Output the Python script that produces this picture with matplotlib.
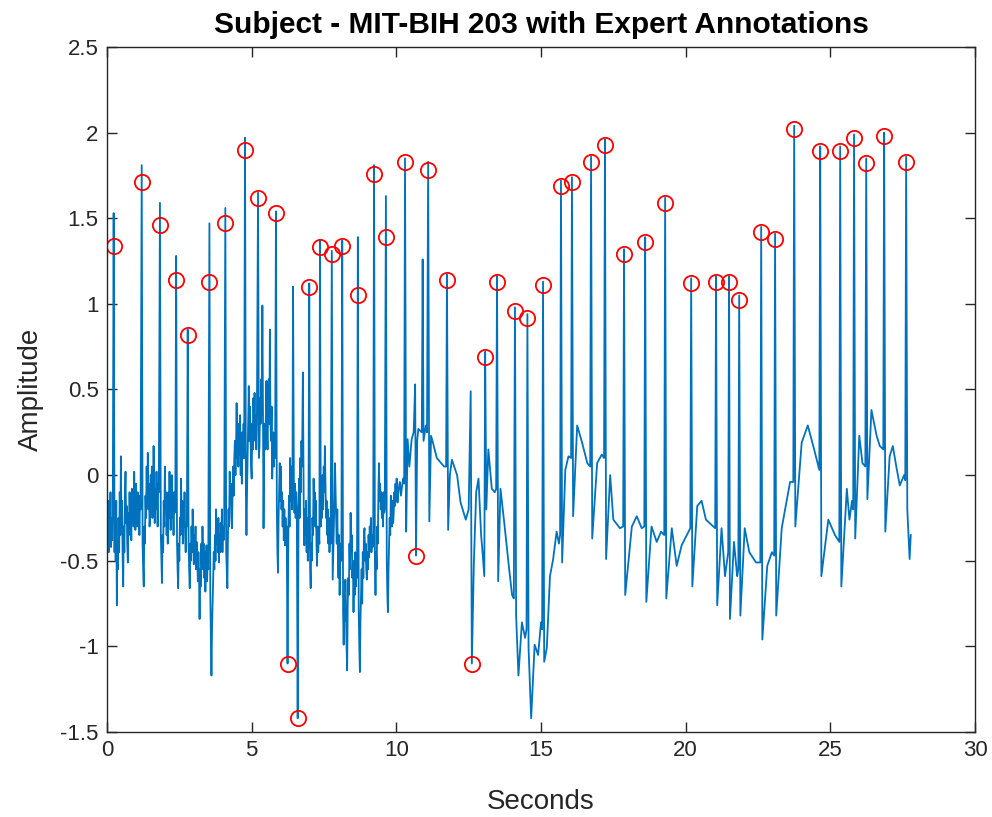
import matplotlib
matplotlib.use("Agg")
import matplotlib.pyplot as plt

plt.rcParams["font.family"] = ["Liberation Sans", "DejaVu Sans"]
plt.rcParams["axes.unicode_minus"] = False

# ECG trace (seconds, amplitude)
ecg_t = [
    0.00, 0.02, 0.04, 0.06, 0.08, 0.10, 0.12, 0.14, 0.16, 0.18, 0.20,
    0.23, 0.26,
    0.28, 0.30, 0.32, 0.34, 0.36, 0.38, 0.40, 0.42, 0.44, 0.46, 0.48, 0.50, 0.52, 0.54, 0.56,
    0.58, 0.60, 0.62, 0.64, 0.66, 0.68, 0.70, 0.72, 0.74, 0.76, 0.78, 0.80, 0.82, 0.84, 0.86,
    0.88, 0.90, 0.92, 0.94, 0.96, 0.98, 1.00, 1.02, 1.04, 1.06, 1.08, 1.10, 1.12, 1.14, 1.16,
    1.20, 1.23,
    1.25, 1.27, 1.29, 1.31, 1.33, 1.35, 1.37, 1.39, 1.41, 1.43, 1.45, 1.47, 1.49, 1.51,
    1.53, 1.55, 1.57, 1.59, 1.61, 1.63, 1.65, 1.67, 1.69, 1.71, 1.73, 1.75, 1.77, 1.79,
    1.83, 1.86,
    1.88, 1.90, 1.92, 1.94, 1.96, 1.98, 2.00, 2.02, 2.04, 2.06, 2.08, 2.10, 2.12,
    2.14, 2.16, 2.18, 2.20, 2.22, 2.24, 2.26, 2.28, 2.30, 2.32, 2.34, 2.36,
    2.39, 2.42,
    2.44, 2.46, 2.48, 2.50, 2.52, 2.54, 2.56, 2.58, 2.60, 2.62, 2.64, 2.66, 2.68, 2.70,
    2.72, 2.74, 2.76,
    2.79, 2.82,
    2.84, 2.86, 2.88, 2.90, 2.92, 2.94, 2.96, 2.98, 3.00, 3.02, 3.04, 3.06, 3.08, 3.10,
    3.12, 3.14, 3.16, 3.18, 3.20, 3.22, 3.24, 3.26, 3.28, 3.30, 3.32, 3.34, 3.36, 3.38,
    3.40, 3.42, 3.44, 3.46, 3.48, 3.50,
    3.54, 3.57,
    3.59, 3.61, 3.63, 3.65, 3.67, 3.69, 3.71, 3.73, 3.75, 3.77, 3.79, 3.81,
    3.83, 3.85, 3.87, 3.89, 3.91, 3.93, 3.95, 3.97, 3.99, 4.01, 4.03, 4.05,
    4.09, 4.12,
    4.14, 4.16, 4.18, 4.20, 4.22, 4.24, 4.26, 4.28, 4.30, 4.32, 4.34, 4.36, 4.38, 4.40, 4.42, 4.44,
    4.46, 4.48, 4.50, 4.52, 4.54, 4.56, 4.58, 4.60, 4.62, 4.64, 4.66, 4.68, 4.70, 4.72, 4.74,
    4.77, 4.80,
    4.82, 4.84, 4.86, 4.88, 4.90, 4.92, 4.94, 4.96, 4.98, 5.00,
    5.02, 5.04, 5.06, 5.08, 5.10, 5.12, 5.14, 5.16, 5.18,
    5.22, 5.25,
    5.27, 5.29, 5.31, 5.33, 5.35, 5.37, 5.39, 5.41, 5.43, 5.45, 5.47, 5.49, 5.51, 5.53,
    5.55, 5.57, 5.59, 5.61, 5.63, 5.65, 5.67, 5.69, 5.71, 5.73, 5.75, 5.77, 5.79, 5.81,
    5.84, 5.87,
    5.89, 5.91, 5.93, 5.95, 5.97, 5.99, 6.01, 6.03, 6.05, 6.07, 6.09, 6.11, 6.13, 6.15, 6.17, 6.19, 6.21,
    6.24, 6.27,
    6.29, 6.31, 6.33, 6.35, 6.37, 6.39, 6.41,
    6.43, 6.46,
    6.48, 6.50, 6.52, 6.54, 6.56,
    6.59, 6.62,
    6.64, 6.66, 6.68, 6.70, 6.72, 6.74,
    6.77, 6.80,
    6.82, 6.84, 6.86, 6.88, 6.90, 6.92, 6.94, 6.96,
    6.99, 7.02,
    7.04, 7.06, 7.08, 7.10, 7.12, 7.14, 7.16, 7.18, 7.20, 7.22, 7.24, 7.26, 7.28, 7.30, 7.32, 7.34,
    7.36, 7.39,
    7.41, 7.43, 7.45, 7.47, 7.49, 7.51, 7.53, 7.55, 7.57, 7.59, 7.61, 7.63, 7.65, 7.67, 7.69, 7.71, 7.73,
    7.77, 7.80,
    7.82, 7.84, 7.86, 7.88, 7.90, 7.92, 7.94, 7.96, 7.98, 8.00, 8.02, 8.04, 8.06, 8.08, 8.10,
    8.13, 8.16,
    8.18, 8.20, 8.22, 8.24, 8.26, 8.28, 8.30, 8.32, 8.34, 8.36, 8.38, 8.40,
    8.42, 8.44, 8.46, 8.48, 8.50, 8.52, 8.54, 8.56, 8.58, 8.60, 8.62, 8.64,
    8.67, 8.70,
    8.72, 8.74, 8.76, 8.78, 8.80, 8.82, 8.84, 8.86, 8.88, 8.90, 8.92, 8.94, 8.96,
    8.98, 9.00, 9.02, 9.04, 9.06, 9.08, 9.10, 9.12, 9.14, 9.16, 9.18, 9.20,
    9.23, 9.26,
    9.28, 9.30, 9.32, 9.34, 9.36, 9.38, 9.40, 9.42, 9.44, 9.46, 9.48, 9.50, 9.52, 9.54, 9.56, 9.58, 9.60,
    9.64, 9.67,
    9.69, 9.71, 9.73, 9.75, 9.77, 9.79, 9.81, 9.83, 9.85, 9.87, 9.89, 9.91,
    9.93, 9.95, 9.97, 9.99, 10.01, 10.04, 10.08, 10.12, 10.16, 10.20, 10.24, 10.27,
    10.30, 10.34, 10.39, 10.45, 10.53, 10.60, 10.65, 10.68, 10.72, 10.76, 10.88, 10.91, 10.94, 11.02, 11.06,
    11.10, 11.14, 11.20, 11.28, 11.40, 11.55, 11.65, 11.72,
    11.75, 11.79, 11.85, 11.92, 12.00, 12.10, 12.22, 12.40, 12.50, 12.57,
    12.61, 12.68, 12.76, 12.84, 12.93, 12.98, 13.04,
    13.07, 13.11, 13.18, 13.30, 13.40, 13.45,
    13.48, 13.52, 13.60, 13.75, 13.90, 14.00, 14.06,
    14.10, 14.14, 14.22, 14.34, 14.45, 14.50,
    14.53, 14.57, 14.66, 14.78, 14.90, 15.00, 15.04,
    15.07, 15.11, 15.20, 15.31, 15.42, 15.54, 15.62, 15.66,
    15.69, 15.73, 15.84, 15.95, 16.04,
    16.07, 16.11, 16.25, 16.42, 16.60, 16.70,
    16.73, 16.77, 16.94, 17.10, 17.18,
    17.21, 17.25, 17.39, 17.50, 17.73, 17.84,
    17.87, 17.91, 18.14, 18.31, 18.48, 18.57,
    18.60, 18.64, 18.82, 19.00, 19.15, 19.26,
    19.29, 19.33, 19.52, 19.69, 19.86, 20.16,
    20.19, 20.23, 20.40, 20.55, 20.70, 21.02,
    21.05, 21.09, 21.24, 21.36, 21.47,
    21.50, 21.53, 21.67, 21.78, 21.82,
    21.85, 21.89, 22.04, 22.20, 22.43, 22.58,
    22.61, 22.65, 22.82, 22.98, 23.06,
    23.09, 23.13, 23.32, 23.50, 23.61, 23.72,
    23.75, 23.79, 24.01, 24.22, 24.41, 24.62,
    24.65, 24.69, 24.93, 25.16, 25.31,
    25.34, 25.38, 25.57, 25.66, 25.75, 25.79,
    25.82, 25.86, 26.00, 26.11, 26.21,
    26.24, 26.28, 26.42, 26.60, 26.71, 26.83,
    26.86, 26.90, 27.05, 27.16, 27.28, 27.40, 27.55, 27.59,
    27.62, 27.66, 27.74, 27.78,
]
ecg_v = [
    -0.05, -0.35, -0.15, -0.45, -0.20, -0.30, -0.10, -0.42, -0.25, -0.38, -0.22,
    1.53, -0.45,
    -0.20, -0.50, -0.15, -0.76, -0.40, -0.55, -0.25, -0.45, -0.10, -0.35, 0.11, -0.30, -0.15, -0.48, -0.65,
    -0.30, -0.45, -0.12, 0.02, -0.28, -0.18, -0.40, -0.51, -0.22, -0.35, -0.10, -0.30, -0.18, -0.38, -0.08,
    -0.25, -0.12, -0.30, 0.02, -0.20, -0.32, -0.05, -0.22, -0.30, -0.10, -0.25, -0.15, -0.35, -0.12, -0.20,
    1.81, -0.40,
    -0.55, -0.65, -0.30, -0.40, -0.12, -0.25, 0.05, -0.15, 0.13, -0.20, -0.05, -0.30, -0.24, 0.00,
    -0.15, 0.05, -0.25, -0.10, 0.17, -0.05, -0.28, -0.08, -0.20, 0.02, -0.15, -0.30, -0.05, -0.10,
    1.59, -0.35,
    -0.50, -0.63, -0.35, -0.45, -0.15, -0.30, 0.05, -0.20, -0.10, -0.35, -0.18, -0.40, -0.10,
    -0.25, 0.02, -0.20, -0.32, -0.08, 0.00, -0.25, -0.15, -0.35, -0.10, -0.22, -0.20,
    1.28, -0.40,
    -0.55, -0.66, -0.40, -0.50, -0.25, -0.35, -0.02, -0.30, -0.15, -0.40, -0.22, -0.30, -0.10, -0.35,
    -0.45, -0.28, -0.30,
    0.85, -0.40,
    -0.55, -0.66, -0.40, -0.50, -0.30, -0.45, -0.20, -0.38, -0.52, -0.35, -0.45, -0.30, -0.55, -0.39,
    -0.48, -0.62, -0.45, -0.58, -0.84, -0.55, -0.65, -0.40, -0.55, -0.30, -0.48, -0.40, -0.60, -0.45,
    -0.68, -0.50, -0.41, -0.62, -0.48, -0.55,
    1.47, -0.70,
    -0.95, -1.17, -0.90, -0.75, -0.60, -0.45, -0.55, -0.35, -0.50, -0.20, -0.40, -0.30,
    -0.45, -0.25, -0.51, -0.35, -0.45, -0.28, -0.40, -0.20, -0.45, -0.30, -0.38, -0.30,
    1.56, -0.45,
    -0.55, -0.66, -0.35, -0.20, -0.30, 0.02, -0.15, -0.05, -0.25, -0.31, -0.10, 0.05, -0.12, 0.10, 0.20, 0.00,
    0.15, 0.42, 0.10, 0.25, 0.05, 0.30, 0.12, 0.35, 0.00, 0.20, -0.05, 0.25, 0.10, 0.30, 0.10,
    1.97, -0.10,
    -0.35, -0.10, 0.10, 0.30, 0.52, 0.20, 0.40, 0.25, 0.05, -0.02,
    0.30, 0.15, 0.45, 0.25, 0.48, 0.20, 0.35, 0.15, 0.30,
    1.65, 0.10,
    0.17, 0.45, 0.30, 0.56, 0.35, 0.99, 0.40, -0.31, 0.10, 0.30, 0.15, 0.37, 0.55, 0.25,
    0.15, 0.40, 0.56, 0.30, 0.85, 0.30, 0.20, 0.40, -0.02, 0.15, 0.25, 0.05, 0.20, 0.10,
    1.54, -0.20,
    -0.45, -0.57, -0.25, -0.10, 0.07, -0.15, 0.05, -0.20, -0.10, -0.30, -0.15, -0.38, -0.20, -0.41, -0.25, -0.35, -0.30,
    -1.10, -0.30,
    -0.12, -0.30, 0.10, -0.15, 0.05, -0.20, -0.05,
    1.10, -0.10,
    -0.22, -0.05, -0.25, -0.10, -0.20,
    -1.42, -0.20,
    -0.02, -0.25, 0.10, -0.10, 0.20, 0.05,
    0.60, -0.20,
    -0.41, -0.20, -0.35, -0.15, -0.45, -0.25, -0.50, -0.40,
    1.12, -0.55,
    -0.66, -0.40, -0.50, -0.25, -0.35, -0.02, -0.20, -0.10, -0.30, -0.15, -0.40, -0.53, -0.30, -0.45, -0.35, -0.40,
    1.37, -0.30,
    -0.10, -0.25, 0.00, -0.20, 0.05, -0.10, 0.17, -0.05, -0.25, -0.15, -0.35, -0.20, -0.40, -0.25, -0.45, -0.30, -0.40,
    1.31, -0.61,
    -0.45, -0.30, -0.15, 0.07, -0.10, -0.25, -0.40, -0.20, -0.45, -0.60, -0.35, -0.70, -0.50, -0.40, -0.50,
    1.37, -0.80,
    -0.99, -0.70, -0.85, -0.61, -0.80, -1.00, -1.14, -0.75, -0.60, -0.70, -0.40, -0.55,
    -0.22, -0.45, -0.35, -0.60, -0.50, -0.80, -0.55, -0.70, -0.45, -0.65, -0.55, -0.60,
    1.39, -0.80,
    -1.00, -1.15, -0.85, -0.70, -0.55, -0.75, -0.45, -0.60, -0.35, -0.31, -0.50, -0.40, -0.55,
    -0.61, -0.45, -0.55, -0.35, -0.48, -0.30, -0.40, -0.25, -0.45, -0.35, -0.42, -0.40,
    1.81, -0.50,
    -0.70, -0.45, -0.55, -0.30, -0.40, -0.10, 0.07, -0.15, -0.05, -0.20, -0.10, -0.25, -0.12, -0.30, -0.10, -0.22, -0.20,
    1.63, -0.50,
    -0.70, -0.80, -0.55, -0.40, -0.25, -0.35, -0.12, -0.25, -0.30, -0.15, -0.28, -0.22,
    -0.10, -0.18, -0.05, -0.15, -0.02, -0.16, -0.08, -0.04, -0.12, -0.06, -0.02, -0.05,
    1.85, -0.33, 0.21, 0.05, 0.21, 0.25, 0.53, -0.47, 0.20, 0.27, 0.25, 1.26, 0.20, 0.29, 0.25,
    1.83, -0.27, 0.23, 0.18, 0.10, 0.07, 0.05, 0.05,
    1.17, -0.32, 0.00, 0.09, 0.05, 0.00, -0.16, -0.26, -0.20, 0.49,
    -1.10, -0.51, -0.10, -0.02, -0.35, -0.45, -0.59,
    0.72, -0.20, 0.15, -0.08, -0.10, -0.08,
    1.16, -0.62, -0.08, -0.31, -0.55, -0.70, -0.72,
    0.98, -0.82, -1.17, -0.86, -0.95, -0.90,
    0.94, -1.01, -1.42, -0.99, -1.05, -0.86, -0.90,
    1.13, -1.09, -1.01, -0.59, -0.49, -0.33, -0.40, -0.35,
    1.72, -0.51, 0.03, 0.11, 0.10,
    1.74, -0.24, 0.29, 0.19, 0.07, 0.05,
    1.86, -0.37, 0.07, 0.12, 0.10,
    1.96, -0.49, 0.00, -0.26, -0.31, -0.30,
    1.32, -0.70, -0.30, -0.24, -0.31, -0.30,
    1.39, -0.74, -0.30, -0.39, -0.33, -0.35,
    1.62, -0.72, -0.31, -0.53, -0.41, -0.31,
    1.15, -0.65, -0.18, -0.15, -0.26, -0.31,
    1.16, -0.76, -0.31, -0.59, -0.45,
    1.16, -0.84, -0.39, -0.59, -0.55,
    1.05, -0.82, -0.31, -0.45, -0.51, -0.51,
    1.45, -0.96, -0.53, -0.45, -0.47,
    1.41, -0.82, -0.31, -0.14, -0.04, -0.04,
    2.04, -0.30, 0.19, 0.29, 0.17, 0.03,
    1.92, -0.59, -0.26, -0.35, -0.39,
    1.92, -0.65, -0.08, -0.26, -0.15, -0.20,
    1.99, -0.37, 0.23, 0.07, 0.05,
    1.85, -0.14, 0.38, 0.23, 0.17, 0.15,
    2.00, -0.33, 0.11, 0.17, 0.05, -0.06, 0.00, -0.03,
    1.86, -0.20, -0.49, -0.35,
]

# expert beat annotations (red circles)
ann_t = [0.23, 1.20, 1.83, 2.39, 2.79, 3.54, 4.09, 4.77, 5.22, 5.84, 6.24, 6.59, 6.99,
         7.36, 7.77, 8.13, 8.67, 9.23, 9.64, 10.30, 10.68, 11.10, 11.75, 12.61, 13.07,
         13.48, 14.10, 14.53, 15.07, 15.69, 16.07, 16.73, 17.21, 17.87, 18.60, 19.29,
         20.19, 21.05, 21.50, 21.85, 22.61, 23.09, 23.75, 24.65, 25.34, 25.82, 26.24,
         26.86, 27.62]
ann_v = [1.34, 1.71, 1.46, 1.14, 0.82, 1.13, 1.47, 1.90, 1.62, 1.53, -1.10, -1.42, 1.10,
         1.33, 1.29, 1.34, 1.05, 1.76, 1.39, 1.83, -0.47, 1.78, 1.14, -1.10, 0.69,
         1.13, 0.96, 0.92, 1.11, 1.69, 1.71, 1.83, 1.93, 1.29, 1.36, 1.59,
         1.12, 1.13, 1.13, 1.02, 1.42, 1.38, 2.02, 1.89, 1.89, 1.97, 1.82,
         1.98, 1.83]

x_ticks = [0, 5, 10, 15, 20, 25, 30]
y_ticks = [-1.5, -1, -0.5, 0, 0.5, 1, 1.5, 2, 2.5]

axis_color = "#262626"

fig = plt.figure(figsize=(9.92, 8.17), dpi=100)
ax = fig.add_axes([107 / 992, 1 - 732 / 817, 868 / 992, 685 / 817])

ax.plot(ecg_t, ecg_v, color="#0072BD", linewidth=1.3)
ax.plot(ann_t, ann_v, "o", markerfacecolor="none", markeredgecolor="red",
        markersize=11, markeredgewidth=1.3)

ax.set_xlim(0, 30)
ax.set_ylim(-1.5, 2.5)
ax.set_xticks(x_ticks)
ax.set_yticks(y_ticks)
ax.set_xticklabels([f"{v:g}" for v in x_ticks])
ax.set_yticklabels([f"{v:g}" for v in y_ticks])
ax.tick_params(direction="in", length=7, width=1, colors=axis_color, labelsize=16,
               top=True, right=True, pad=6)
for side in ax.spines.values():
    side.set_color(axis_color)
    side.set_linewidth(1)

ax.set_xlabel("Seconds", fontsize=20, color=axis_color, labelpad=20)
ax.set_ylabel("Amplitude", fontsize=20, color=axis_color, labelpad=12)
ax.set_title("Subject - MIT-BIH 203 with Expert Annotations", fontsize=21.5,
             fontweight="bold", color="black", pad=10)

fig.savefig("out.png", dpi=100)
